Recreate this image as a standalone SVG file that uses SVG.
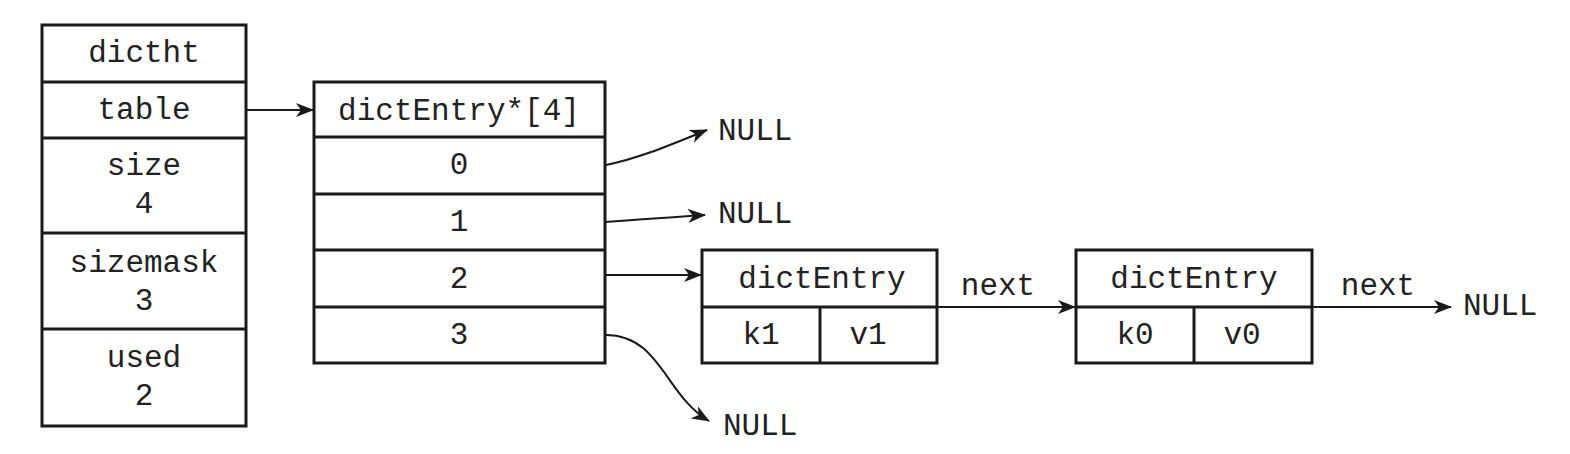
<svg xmlns="http://www.w3.org/2000/svg" width="1570" height="454" viewBox="0 0 1570 454">
<style>
.b{fill:#fff;stroke:#1a1a1a;stroke-width:3}
.l{stroke:#1a1a1a;stroke-width:3;fill:none}
.t{font-family:"Liberation Mono","DejaVu Sans Mono",monospace;font-size:31px;fill:#222;text-anchor:middle}
.s{font-family:"Liberation Mono","DejaVu Sans Mono",monospace;font-size:31px;fill:#222}
.c{stroke:#1a1a1a;stroke-width:2;fill:none;marker-end:url(#ah)}
</style>
<defs>
<marker id="ah" viewBox="0 0 18 14" refX="17" refY="7" markerWidth="18" markerHeight="14" markerUnits="userSpaceOnUse" orient="auto">
<path d="M0,0 L18,7 L0,14 L5,7 Z" fill="#1a1a1a"/>
</marker>
</defs>
<rect width="1570" height="454" fill="#fff"/>
<g id="dictht">
<rect class="b" x="42" y="25" width="204" height="401"/>
<line class="l" x1="42" y1="82" x2="246" y2="82"/>
<line class="l" x1="42" y1="138" x2="246" y2="138"/>
<line class="l" x1="42" y1="233" x2="246" y2="233"/>
<line class="l" x1="42" y1="329" x2="246" y2="329"/>
<text class="t" x="144" y="62">dictht</text>
<text class="t" x="144" y="119">table</text>
<text class="t" x="144" y="175">size</text>
<text class="t" x="144" y="213">4</text>
<text class="t" x="144" y="272">sizemask</text>
<text class="t" x="144" y="310">3</text>
<text class="t" x="144" y="367">used</text>
<text class="t" x="144" y="405">2</text>
</g>
<g id="table">
<rect class="b" x="314" y="82" width="291" height="281"/>
<line class="l" x1="314" y1="137" x2="605" y2="137"/>
<line class="l" x1="314" y1="194" x2="605" y2="194"/>
<line class="l" x1="314" y1="250" x2="605" y2="250"/>
<line class="l" x1="314" y1="307" x2="605" y2="307"/>
<text class="t" x="459" y="120">dictEntry*[4]</text>
<text class="t" x="459" y="174">0</text>
<text class="t" x="459" y="231">1</text>
<text class="t" x="459" y="288">2</text>
<text class="t" x="459" y="344">3</text>
</g>
<g id="entry1">
<rect class="b" x="702" y="250" width="235" height="113"/>
<line class="l" x1="702" y1="307" x2="937" y2="307"/>
<line class="l" x1="820" y1="307" x2="820" y2="363"/>
<text class="t" x="822" y="288">dictEntry</text>
<text class="t" x="761" y="344">k1</text>
<text class="t" x="868" y="344">v1</text>
</g>
<g id="entry0">
<rect class="b" x="1076" y="250" width="236" height="113"/>
<line class="l" x1="1076" y1="307" x2="1312" y2="307"/>
<line class="l" x1="1194" y1="307" x2="1194" y2="363"/>
<text class="t" x="1194" y="288">dictEntry</text>
<text class="t" x="1135" y="344">k0</text>
<text class="t" x="1242" y="344">v0</text>
</g>
<g id="nulls">
<text class="s" x="718" y="140">NULL</text>
<text class="s" x="718" y="223">NULL</text>
<text class="s" x="723" y="435">NULL</text>
<text class="s" x="1463" y="315">NULL</text>
</g>
<g id="connectors">
<line class="c" x1="247" y1="110" x2="313" y2="110"/>
<path class="c" d="M606,165 C640,158 670,145 707,130"/>
<path class="c" d="M606,222 C640,220 670,217 705,215"/>
<line class="c" x1="606" y1="275" x2="701" y2="275"/>
<path class="c" d="M606,335 C660,335 665,395 709,421"/>
<line class="c" x1="937" y1="307" x2="1075" y2="307"/>
<line class="c" x1="1312" y1="307" x2="1451" y2="307"/>
<text class="t" x="998" y="295">next</text>
<text class="t" x="1378" y="295">next</text>
</g>
</svg>
